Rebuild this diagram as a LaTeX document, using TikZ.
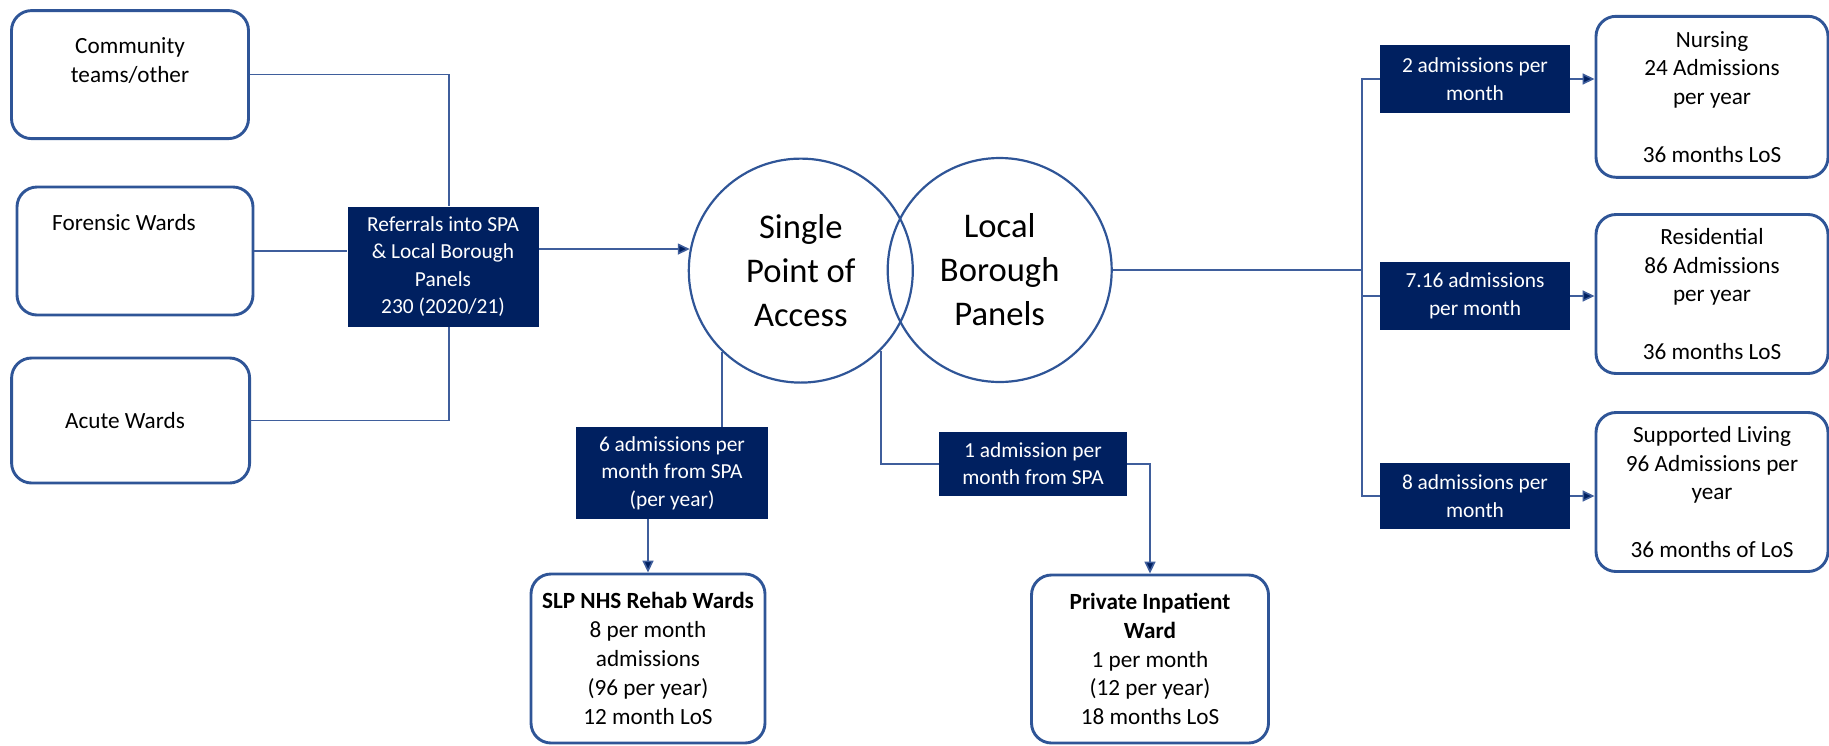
\documentclass[tikz,border=0pt]{standalone}
\usepackage{fontspec}
\setmainfont{Carlito}
\usetikzlibrary{arrows.meta}
\definecolor{bord}{HTML}{2F5597}
\definecolor{navy}{HTML}{002060}
\definecolor{connc}{HTML}{3F5E9C}
\begin{document}
\begin{tikzpicture}[x=0.5pt,y=-0.5pt,
  wbox/.style={draw=bord, line width=1.45pt, rounded corners=10pt, fill=white, align=center,
    font=\fontsize{11.6}{14.4}\selectfont, inner sep=0pt},
  dbox/.style={fill=navy, text=white, align=center, font=\fontsize{10.7}{13.75}\selectfont, inner sep=0pt},
  circ/.style={circle, draw=bord, line width=1.1pt, align=center, font=\fontsize{17.3}{22}\selectfont, inner sep=0pt, minimum size=112pt},
  conn/.style={draw=connc, line width=0.8pt},
  arr/.style={conn, -{Triangle[length=6pt,width=5.5pt,fill=navy]}}
]
\useasboundingbox (0,0) rectangle (1829,745);

% left boxes
\node[wbox, minimum width=118.5pt, minimum height=64pt] (comm) at (130,74.6) {Community\\teams/other\\~};
\node[wbox, minimum width=118pt, minimum height=64pt] (fore) at (135,251) {Forensic Wards\hspace*{11pt}\\~\\~};
\node[wbox, minimum width=119pt, minimum height=62.5pt] (acute) at (130.6,420.5) {Acute Wards\hspace*{5.6pt}};
\node[dbox, minimum width=95.5pt, minimum height=60pt] (ref) at (443,266.5) {Referrals into SPA\\\& Local Borough\\Panels\\230 (2020/21)};

% circles
\node[circ] (spa) at (800.8,270.6) {Single\\Point of\\Access};
\node[circ] (lbp) at (999.7,270) {Local\\Borough\\Panels};

% right labels and boxes
\node[dbox, minimum width=95pt, minimum height=34pt] (lab1) at (1475,79) {2 admissions per\\month};
\node[dbox, minimum width=95pt, minimum height=34pt] (lab2) at (1475,296) {7.16 admissions\\per month};
\node[dbox, minimum width=95pt, minimum height=33pt] (lab3) at (1475,496) {8 admissions per\\month};
\node[wbox, minimum width=116pt, minimum height=80.5pt] (nurs) at (1712,96.8) {Nursing\\24 Admissions\\per year\\~\\36 months LoS};
\node[wbox, minimum width=116pt, minimum height=79.5pt] (res) at (1712,294) {Residential\\86 Admissions\\per year\\~\\36 months LoS};
\node[wbox, minimum width=116pt, minimum height=79.5pt] (sup) at (1712,492) {Supported Living\\96 Admissions per\\year\\~\\36 months of LoS};

% bottom
\node[dbox, minimum width=96pt, minimum height=46pt] (adm6) at (672,473) {6 admissions per\\month from SPA\\(per year)};
\node[wbox, minimum width=117pt, minimum height=84.5pt] (slp) at (648,658.5) {\textbf{SLP NHS Rehab Wards}\\8 per month\\admissions\\(96 per year)\\12 month LoS};
\node[dbox, minimum width=94pt, minimum height=32pt] (adm1) at (1033,463.7) {1 admission per\\month from SPA};
\node[wbox, minimum width=118.5pt, minimum height=84pt] (priv) at (1150,659) {\textbf{Private Inpatient}\\\textbf{Ward}\\1 per month\\(12 per year)\\18 months LoS};

% coordinates
\coordinate (lx) at (449,0);
\coordinate (rx) at (1362,0);

% left connectors
\draw[conn] (comm.east) -| (ref.north -| lx);
\draw[conn] (acute.east) -| (ref.south -| lx);
\draw[conn] (fore.east) -- (ref.west |- fore.east);
\draw[arr] (ref.east |- spa.169.4) -- (spa.169.4);

% right connectors
\draw[conn] (lbp.east) -- (lbp.east -| rx);
\draw[conn] (lab1.west) -| (lab3.west -| rx) -- (lab3.west);
\draw[conn] (lab2.west) -- (lab2.west -| rx);
\draw[arr] (lab1.east) -- (lab1.east -| nurs.west);
\draw[arr] (lab2.east) -- (lab2.east -| res.west);
\draw[arr] (lab3.east) -- (lab3.east -| sup.west);

% bottom connectors
\draw[conn] (spa.226) -- (spa.226 |- adm6.north);
\draw[arr] (adm6.south -| slp.north) -- (slp.north);
\draw[conn] (spa.-45.4) |- (adm1.west);
\draw[arr] (adm1.east) -| (priv.north);
\end{tikzpicture}
\end{document}
